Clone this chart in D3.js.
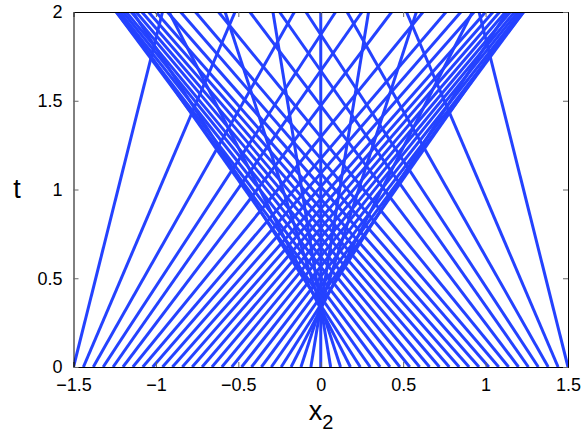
<!DOCTYPE html>
<html>
<head>
<meta charset="utf-8">
<script src="https://cdn.jsdelivr.net/npm/d3@7/dist/d3.min.js"></script>
<style>
  body { margin: 0; background: #fff; }
  svg { display: block; font-family: "Liberation Sans", Arial, sans-serif; }
</style>
</head>
<body>
<svg id="chart" width="584" height="439"></svg>
<script>
// ray start points on x2 at t = 0
const startX = [
  -1.5, -1.44, -1.38, -1.32, -1.26, -1.2, -1.14, -1.08, -1.02, -0.96,
  -0.9, -0.84, -0.78, -0.72, -0.66, -0.6, -0.54, -0.48, -0.42, -0.36,
  -0.3, -0.24, -0.18, -0.12, -0.06, 0,
  0.06, 0.12, 0.18, 0.24, 0.3, 0.36, 0.42, 0.48, 0.54, 0.6,
  0.66, 0.72, 0.78, 0.84, 0.9, 0.96, 1.02, 1.08, 1.14, 1.2,
  1.26, 1.32, 1.38, 1.44, 1.5
];
const endX = [
  -0.96, -0.52, -0.16, 0.09, 0.25, 0.43, 0.62, 0.76, 0.85, 0.93,
  1.0, 1.045, 1.085, 1.12, 1.15, 1.175, 1.195, 1.215, 1.23, 1.23,
  1.21, 1.13, 0.92, 0.58, 0.29, 0,
  -0.29, -0.58, -0.92, -1.14, -1.22, -1.24, -1.24, -1.22, -1.2, -1.18,
  -1.15, -1.12, -1.085, -1.045, -1.0, -0.93, -0.85, -0.76, -0.62, -0.43,
  -0.25, -0.09, 0.16, 0.52, 0.96
];
const tStart = 0;
const tEnd = 2;
const xTicks = [-1.5, -1, -0.5, 0, 0.5, 1, 1.5];
const tTicks = [0, 0.5, 1, 1.5, 2];

const svg = d3.select("#chart");
const margin = { top: 12, right: 16, bottom: 72, left: 73.5 };
const width = 584, height = 439;

const x = d3.scaleLinear().domain([-1.5, 1.5]).range([margin.left, width - margin.right]);
const y = d3.scaleLinear().domain([0, 2]).range([height - margin.bottom, margin.top]);

svg.append("defs").append("clipPath").attr("id", "plotClip")
  .append("rect")
  .attr("x", x(-1.5)).attr("y", y(2))
  .attr("width", x(1.5) - x(-1.5)).attr("height", y(0) - y(2));

const rays = startX.map((x0, i) => [[x0, tStart], [endX[i], tEnd]]);
const line = d3.line().x((d) => x(d[0])).y((d) => y(d[1]));

svg.append("g")
  .attr("clip-path", "url(#plotClip)")
  .selectAll("path.ray")
  .data(rays)
  .join("path")
  .attr("class", "ray")
  .attr("d", line)
  .attr("fill", "none")
  .attr("stroke", "#2442ff")
  .attr("stroke-width", 3);

// axes, matlab style: ticks inside, box all round
const tickLen = 5;
const fmt = (d) => String(d).replace("-", "\u2212");
const bottomAxis = svg.append("g")
  .attr("transform", `translate(0,${y(0)})`)
  .call(d3.axisBottom(x).tickValues(xTicks).tickSize(-tickLen).tickPadding(11).tickFormat(fmt));
const leftAxis = svg.append("g")
  .attr("transform", `translate(${x(-1.5)},0)`)
  .call(d3.axisLeft(y).tickValues(tTicks).tickSize(-tickLen).tickPadding(11).tickFormat(fmt));
const topAxis = svg.append("g")
  .attr("transform", `translate(0,${y(2)})`)
  .call(d3.axisTop(x).tickValues(xTicks).tickSize(-tickLen).tickFormat(""));
const rightAxis = svg.append("g")
  .attr("transform", `translate(${x(1.5)},0)`)
  .call(d3.axisRight(y).tickValues(tTicks).tickSize(-tickLen).tickFormat(""));

[bottomAxis, leftAxis, topAxis, rightAxis].forEach((a) => {
  a.select(".domain").attr("stroke", "#000").attr("stroke-width", 1);
  a.selectAll(".tick line").attr("stroke", "#666");
  a.selectAll("text").attr("font-size", 18).attr("fill", "#000")
    .style("font-family", "'Liberation Sans', Arial, sans-serif");
});

// labels
const xl = svg.append("text")
  .attr("x", 321).attr("y", 420)
  .attr("text-anchor", "middle")
  .attr("font-size", 27);
xl.append("tspan").text("x");
xl.append("tspan").attr("font-size", 20).attr("dy", 9).text("2");

svg.append("text")
  .attr("x", 17).attr("y", 198)
  .attr("text-anchor", "middle")
  .attr("font-size", 27)
  .text("t");
</script>
</body>
</html>
